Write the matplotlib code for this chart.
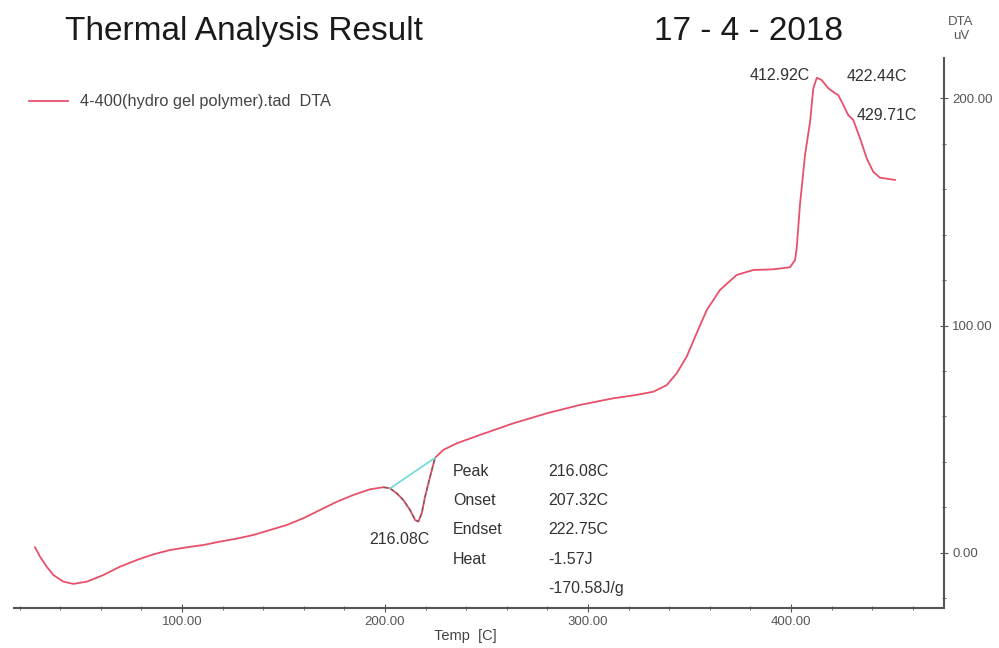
import numpy as np
import matplotlib.pyplot as plt
from matplotlib.ticker import MultipleLocator

plt.rcParams['font.family'] = ['Liberation Sans', 'DejaVu Sans']

# DTA curve
temp = [27.6, 30.0, 33.3, 36.6, 41.5, 46.5, 53.1, 61.2, 69.5, 77.7, 85.9,
        94.1, 102.3, 110.5, 118.7, 126.9, 135.1, 143.3, 151.6, 159.8, 168.0,
        176.2, 184.4, 192.6, 199.2, 202.5, 205.8, 209.0, 212.3, 214.8, 216.4,
        218.1, 219.7, 222.2, 224.6, 228.7, 235.3, 246.8, 263.2, 279.7, 296.1,
        312.5, 324.0, 332.2, 338.8, 343.7, 348.6, 353.5, 358.5, 365.0, 373.2,
        381.4, 391.3, 399.5, 402.0, 402.8, 404.4, 406.9, 409.4, 411.0, 412.7,
        415.1, 418.4, 421.7, 423.3, 425.8, 428.2, 430.7, 434.0, 437.3, 440.5,
        443.8, 451.2]
dta = [2.5, -1.6, -6.0, -9.7, -12.6, -13.6, -12.6, -9.7, -6.0, -3.1, -0.6,
       1.3, 2.5, 3.5, 5.0, 6.3, 7.9, 10.1, 12.3, 15.3, 18.9,
       22.5, 25.5, 28.0, 28.9, 28.4, 26.2, 23.3, 18.9, 14.5, 13.8,
       17.5, 24.7, 33.5, 41.8, 45.3, 48.2, 51.9, 57.0, 61.4, 65.1,
       68.0, 69.5, 70.9, 73.8, 79.0, 86.3, 96.6, 106.8, 115.6, 122.2,
       124.4, 124.7, 125.6, 128.8, 133.9, 153.0, 174.9, 189.6, 204.3, 208.9,
       207.9, 204.3, 202.1, 201.3, 196.9, 192.5, 190.3, 182.3, 173.5, 167.6,
       165.0, 164.0]

baseline_t = [202.5, 224.6]
baseline_v = [28.4, 41.8]

peaks = [(412.92, 208.9), (422.44, 202.1), (429.71, 191.0)]
dip = (216.08, 13.8)

table_keys = ['Peak', 'Onset', 'Endset', 'Heat', '']
table_vals = ['216.08C', '207.32C', '222.75C', '-1.57J', '-170.58J/g']

fig = plt.figure(figsize=(9.99, 6.48), dpi=100)
ax = fig.add_axes([0.014, 0.0617, 0.931, 0.8488])

ax.plot(temp, dta, color='#e8506a', lw=1.3, label='4-400(hydro gel polymer).tad  DTA')
# dip region highlighted
t = np.array(temp); v = np.array(dta)
m = (t >= 199) & (t <= 225)
ax.plot(t[m], v[m], color='#555555', lw=1.0, ls=(0, (3, 2)), alpha=0.7)
ax.plot(baseline_t, baseline_v, color='#6fd8d8', lw=1.2)

ax.set_xlim(17.2, 475.4)
ax.set_ylim(-24.2, 217.6)

for s in ['left', 'top']:
    ax.spines[s].set_visible(False)
for s in ['bottom', 'right']:
    ax.spines[s].set_color('#555555')
    ax.spines[s].set_linewidth(1.5)

ax.yaxis.tick_right()
ax.xaxis.set_major_locator(MultipleLocator(100))
ax.xaxis.set_minor_locator(MultipleLocator(20))
ax.yaxis.set_major_locator(MultipleLocator(100))
ax.yaxis.set_minor_locator(MultipleLocator(20))
ax.xaxis.set_major_formatter(lambda x, p: f'{x:.2f}')
ax.yaxis.set_major_formatter(lambda x, p: f'{x:.2f}')
ax.tick_params(which='both', direction='inout', colors='#555555', labelsize=9.5,
               labelcolor='#555555')
ax.tick_params(which='major', length=6)
ax.tick_params(which='minor', length=3)
ax.tick_params(axis='y', pad=3)
ax.tick_params(axis='x', pad=3)

fig.text(0.466, 0.018, 'Temp  [C]', fontsize=10.5, color='#444444', ha='center',
         va='center')
fig.text(0.962, 0.975, 'DTA\nuV', fontsize=9.5, color='#555555', ha='center',
         va='top', linespacing=1.15)

fig.text(0.065, 0.952, 'Thermal Analysis Result', fontsize=24, color='#1a1a1a',
         va='center')
fig.text(0.655, 0.952, '17 - 4 - 2018', fontsize=24, color='#1a1a1a', va='center')

fs = 11.5
ax.annotate(f'{peaks[0][0]:.2f}C', peaks[0], xytext=(-5, 2), textcoords='offset points',
            ha='right', va='center', fontsize=fs, color='#333333')
ax.annotate(f'{peaks[1][0]:.2f}C', peaks[1], xytext=(7, 12), textcoords='offset points',
            ha='left', va='center', fontsize=fs, color='#333333')
ax.annotate(f'{peaks[2][0]:.2f}C', peaks[2], xytext=(4, 2), textcoords='offset points',
            ha='left', va='center', fontsize=fs, color='#333333')
ax.annotate(f'{dip[0]:.2f}C', dip, xytext=(-13, -13), textcoords='offset points',
            ha='center', va='center', fontsize=fs, color='#333333')

for i, (k, val) in enumerate(zip(table_keys, table_vals)):
    y = 35.7 - i * 12.8
    ax.text(233.5, y, k, fontsize=fs, color='#333333', va='center')
    ax.text(280.5, y, val, fontsize=fs, color='#333333', va='center')

leg = ax.legend(loc='center left', bbox_to_anchor=(0.0, 0.92), frameon=False,
                fontsize=11.8, handlelength=2.4, handletextpad=0.7,
                labelcolor='#444444')

fig.savefig('out.png', dpi=100)
